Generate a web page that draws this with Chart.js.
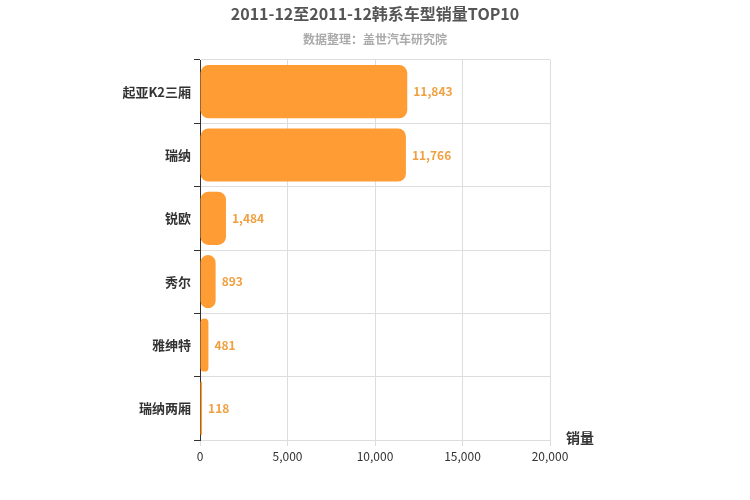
<!DOCTYPE html>
<html><head><meta charset="utf-8">
<script src="https://cdn.jsdelivr.net/npm/chart.js@4"></script>
<style>body{margin:0;background:#fff}#w{width:750px;height:500px}</style>
</head><body><div id="w"><canvas id="c"></canvas></div>
<script>
const categories = ["起亚K2三厢","瑞纳","锐欧","秀尔","雅绅特","瑞纳两厢"];
const sales = [11843,11766,1484,893,481,118];
const xTicks = [0,5000,10000,15000,20000];
const FONT = "'Noto Sans CJK SC', 'Liberation Sans', sans-serif";
const deco = {
  id:'deco',
  afterDraw(ch){
    const c=ch.ctx; c.save();
    c.textAlign='center'; c.textBaseline='middle';
    c.fillStyle='#555'; c.font='bold 16px '+FONT;
    c.fillText('2011-12至2011-12韩系车型销量TOP10',375,14);
    c.fillStyle='#aaa'; c.font='bold 12px '+FONT;
    c.fillText('数据整理：盖世汽车研究院',375,39);
    c.fillStyle='#333'; c.font='bold 14px '+FONT;
    c.fillText('销量',580,438);
    const m=ch.getDatasetMeta(0);
    c.fillStyle='#F0A040'; c.font='bold 12px '+FONT; c.textAlign='left';
    m.data.forEach((b,i)=>c.fillText(sales[i].toLocaleString('en-US'),b.x+6,b.y));
    c.restore();
  }
};
new Chart(document.getElementById('c'),{
  type:'bar',
  data:{labels:categories,datasets:[{data:sales,backgroundColor:'#FF9C33',borderRadius:8,borderSkipped:false,categoryPercentage:0.84,barPercentage:1}]},
  options:{
    indexAxis:'y',responsive:true,maintainAspectRatio:false,animation:false,
    layout:{padding:{top:60,right:200,left:0,bottom:0}},
    plugins:{legend:{display:false},tooltip:{enabled:false}},
    scales:{
      x:{min:0,max:20000,afterBuildTicks(s){s.ticks=xTicks.map(v=>({value:v}));},
        afterFit(s){s.height=60;},
        grid:{color:'#ddd',drawTicks:true,tickLength:6},border:{color:'#ddd'},
        ticks:{color:'#333',font:{family:FONT,size:12},callback:v=>v.toLocaleString('en-US')}},
      y:{afterFit(s){s.width=200;},
        grid:{color:'#ddd',offset:true,tickLength:6,tickColor:'#333'},border:{color:'#333'},
        ticks:{color:'#333',font:{family:FONT,size:13,weight:'bold'}}}
    }
  },
  plugins:[deco]
});
</script></body></html>
